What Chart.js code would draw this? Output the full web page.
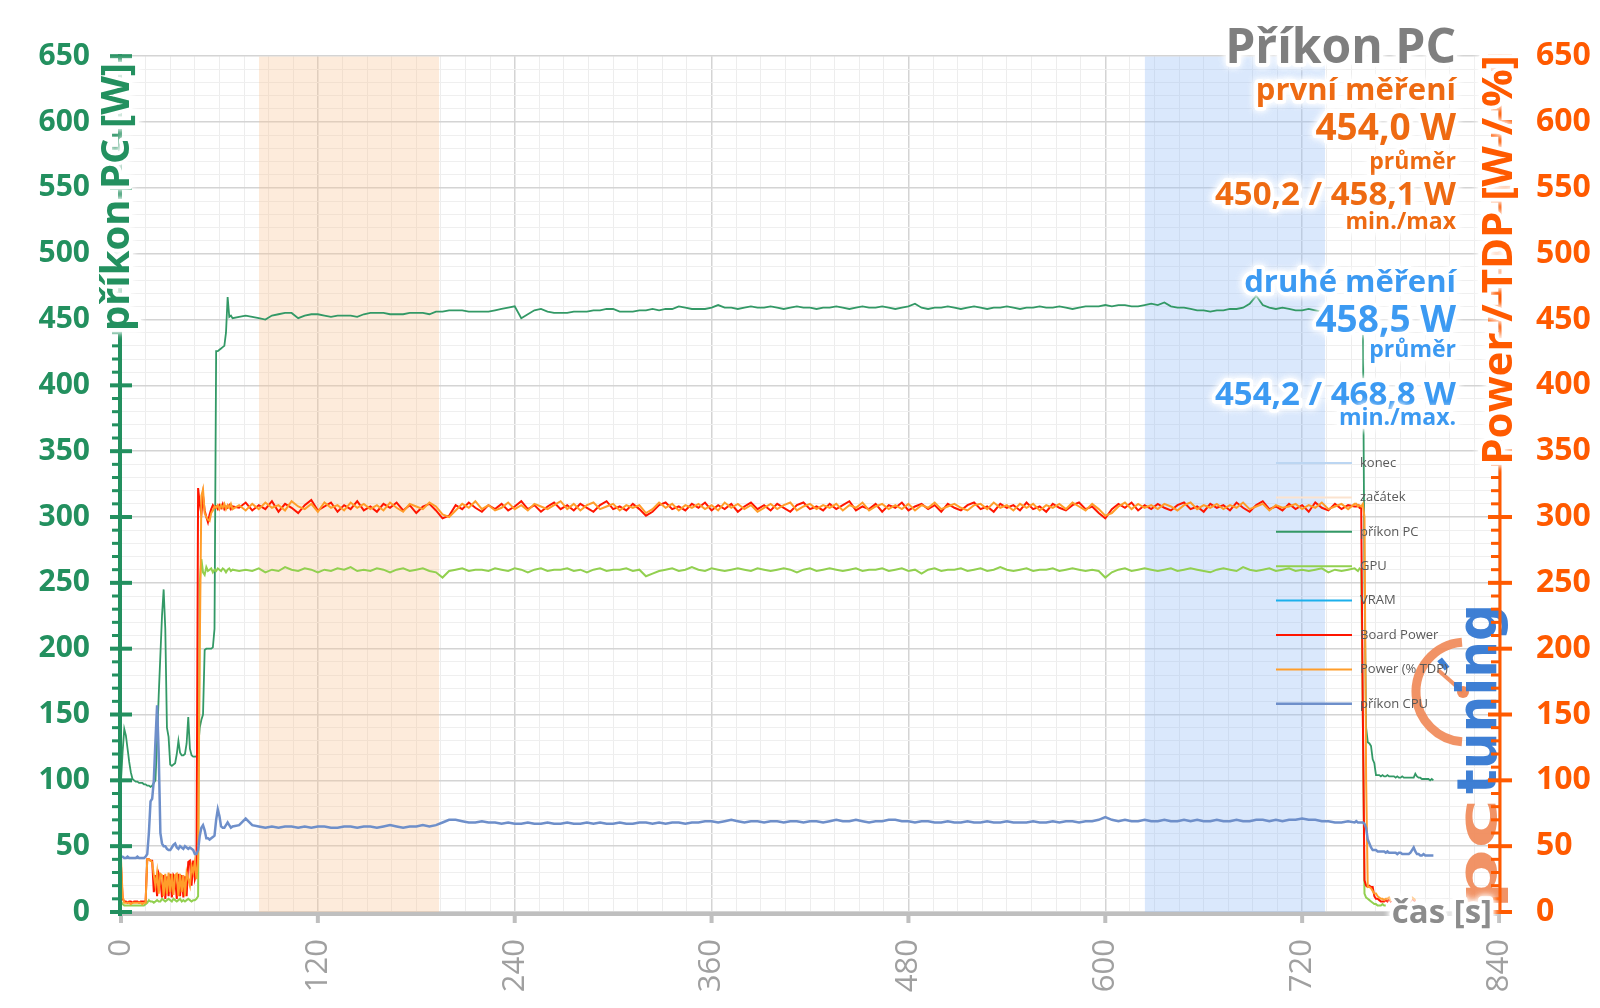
<!DOCTYPE html>
<html><head><meta charset="utf-8">
<script src="https://cdn.jsdelivr.net/npm/chart.js@4.4.1/dist/chart.umd.min.js"></script>
<style>html,body{margin:0;padding:0;background:#fff;}canvas{display:block;}</style>
</head><body>
<canvas id="c" width="1600" height="1008"></canvas>
<script>
// ---------- DATA ----------
const times = [
0,1,2,3,4,5,6,7,8,9,
10,11,12,13,14,15,16,17,18,19,
20,21,22,23,24,25,26,27,28,29,
30,31,32,33,34,35,36,37,38,39,
40,41,42,43,44,45,46,47,48,49,
50,51,52,53,54,55,56,57,58,59,
60,61,62,63,64,65,66,67,68,
72,76,80,84,88,92,96,100,104,108,
112,116,120,124,128,132,136,140,144,148,
152,156,160,164,168,172,176,180,184,188,
192,196,200,204,208,212,216,220,224,228,
232,236,240,244,248,252,256,260,264,268,
272,276,280,284,288,292,296,300,304,308,
312,316,320,324,328,332,336,340,344,348,
352,356,360,364,368,372,376,380,384,388,
392,396,400,404,408,412,416,420,424,428,
432,436,440,444,448,452,456,460,464,468,
472,476,480,484,488,492,496,500,504,508,
512,516,520,524,528,532,536,540,544,548,
552,556,560,564,568,572,576,580,584,588,
592,596,600,604,608,612,616,620,624,628,
632,636,640,644,648,652,656,660,664,668,
672,676,680,684,688,692,696,700,704,708,
712,716,720,724,728,732,736,740,744,748,
752,
753,754,755,756,757,758,759,760,761,762,
763,764,765,766,767,768,769,770,771,772,
773,774,775,776,777,778,779,780,781,782,
783,784,785,786,787,788,789,790,791,792,
793,794,795,796,797,798,799,800];

const prikonPC = [
100,122,139,134,124,114,106,101,100,99,
99,98,98,98,97,97,96,96,95,96,
98,100,130,165,195,225,245,215,140,133,
112,111,112,113,120,130,121,119,119,120,
128,148,124,119,118,118,118,124,140,146,
150,199,200,200,200,200,201,215,426,426,
427,428,429,430,440,467,452,453,451,
452,453,452,451,450,453,454,455,455,451,
453,454,454,453,452,453,453,453,452,454,
455,455,455,454,454,454,455,455,455,454,
456,456,457,457,457,456,456,456,456,457,
458,459,460,451,454,457,458,456,455,455,
455,456,456,456,457,457,458,458,456,456,
456,457,457,458,457,458,458,460,459,458,
458,458,459,461,459,459,458,459,460,459,
459,460,459,458,459,460,459,459,458,459,
459,460,459,458,459,460,459,459,460,459,
458,459,460,462,459,458,459,459,460,459,
458,459,460,459,458,459,459,460,459,458,
459,459,460,459,459,460,459,458,459,460,
460,460,461,460,461,461,460,460,461,462,
461,463,460,459,459,458,457,457,456,457,
457,458,458,459,462,468,461,459,458,459,
458,457,457,458,457,456,457,457,458,457,
458,
458,457,458,457,456,250,140,129,128,126,
116,113,104,104,104,103,104,103,103,104,
103,103,103,103,102,103,102,102,103,102,
102,102,102,102,102,102,105,103,102,102,
101,101,101,101,101,100,101,100];

const gpu = [
8,6,5,5,5,5,5,5,5,5,
5,5,5,5,5,6,7,9,8,8,
7,8,9,8,8,10,9,8,9,10,
9,8,10,9,8,9,10,8,9,8,
9,10,9,8,9,9,10,12,250,268,
258,256,262,259,260,261,258,260,259,261,
260,259,261,260,258,260,261,259,260,
259,260,259,261,258,260,259,262,260,259,
261,260,258,260,259,261,260,262,259,260,
259,261,260,258,260,261,259,260,261,259,
258,254,259,260,261,259,260,260,259,261,
260,259,261,260,258,260,261,259,260,260,
261,259,260,258,260,261,259,260,260,261,
259,260,255,257,259,260,261,259,260,262,
260,259,261,260,259,260,261,260,259,261,
260,259,260,261,260,258,260,261,259,260,
261,260,259,260,261,259,260,260,261,259,
260,261,259,260,257,260,261,259,260,260,
261,259,260,261,259,260,262,260,259,260,
261,259,260,260,261,259,260,261,260,259,
260,259,254,258,260,261,259,260,261,260,
259,260,261,259,260,261,260,259,258,260,
261,260,259,262,260,259,260,261,259,260,
261,259,260,259,260,261,258,260,259,260,
261,
260,259,261,260,150,14,11,10,9,8,
7,6,6,5,5,5,6,5,5,null,
null,null,null,null,null,null,null,null,null,null,
null,null,null,null,null,null,null,null,null,null,
null,null,null,null,null,null,null,null];

const vram = [];

const boardPower = [
35,10,8,8,7,8,8,7,8,8,
8,7,8,8,8,8,40,40,39,39,
15,28,12,29,25,11,28,10,27,12,
29,11,28,26,10,29,12,28,11,27,
12,38,39,20,39,25,30,322,310,302,
316,305,300,296,302,306,309,307,308,306,
309,307,310,306,308,307,309,306,308,
307,311,305,309,306,312,304,310,307,303,
309,313,305,308,311,304,309,306,312,305,
308,304,310,307,311,305,309,303,308,310,
305,299,301,309,306,311,307,304,309,306,
310,305,308,312,306,309,304,308,311,306,
309,305,310,307,304,309,312,306,308,305,
310,306,301,304,309,311,306,308,305,310,
307,311,305,309,306,310,304,308,311,306,
309,305,310,307,304,309,311,306,308,305,
310,306,309,312,305,308,306,310,304,309,
307,311,305,308,310,306,309,304,310,307,
305,309,311,306,308,304,310,307,309,305,
311,306,308,304,310,307,305,309,311,306,
308,303,299,306,310,307,311,305,309,306,
310,307,305,309,311,306,308,304,310,307,
309,305,311,307,304,309,312,306,308,305,
310,306,309,304,311,307,305,310,306,309,
308,
308,309,307,308,150,24,20,19,20,19,
19,12,10,10,9,8,8,8,9,8,
10,8,9,11,8,10,9,8,10,9,
8,10,9,8,10,9,8,null,null,null,
null,null,null,null,null,null,null,null];

const powerTDP = [
40,12,7,7,7,7,6,7,7,7,
7,7,7,6,7,7,40,40,39,38,
28,20,30,14,29,28,12,29,14,30,
15,29,13,28,29,12,29,15,28,12,
30,25,20,35,30,38,25,40,200,316,
321,303,300,298,297,303,305,308,307,309,
306,309,307,310,306,309,307,310,306,
309,305,310,306,311,307,309,305,312,308,
306,310,304,311,307,309,305,311,307,310,
306,309,305,311,307,304,310,308,306,311,
308,302,300,305,310,307,312,306,309,305,
307,311,306,309,305,310,308,306,309,312,
306,310,305,309,311,306,308,310,305,309,
307,309,303,306,311,307,310,305,309,307,
310,306,309,305,311,307,310,306,309,304,
307,310,306,309,311,305,308,310,306,309,
307,310,305,309,307,311,305,308,310,306,
309,306,310,305,309,307,311,306,308,310,
307,305,309,310,306,311,307,309,305,310,
307,310,305,309,307,310,306,311,308,305,
310,306,301,303,308,311,306,310,307,309,
306,310,308,305,309,311,306,309,307,310,
306,309,307,311,306,308,310,305,309,307,
308,310,306,309,307,311,306,308,310,306,
310,
310,308,309,308,310,300,100,19,19,18,
16,14,14,12,11,10,10,9,10,10,
11,9,10,12,9,11,10,9,11,10,
9,11,10,9,11,10,9,null,null,null,
null,null,null,null,null,null,null,null];

const prikonCPU = [
42,42,41,41,42,41,41,41,41,41,
42,41,41,41,41,42,44,60,84,86,
100,130,157,120,60,52,50,50,48,47,
47,49,51,52,49,48,50,49,48,50,
49,48,49,48,47,44,44,47,58,64,
66,62,56,56,55,56,57,58,70,78,
73,65,64,64,66,68,66,64,65,
66,71,66,65,64,65,64,65,65,64,
65,64,65,65,64,64,65,65,64,65,
65,64,65,66,65,64,65,65,66,65,
66,68,70,70,69,68,68,69,68,68,
67,68,67,67,68,67,67,68,67,67,
68,67,67,68,67,68,67,67,68,67,
67,68,68,67,68,67,68,68,67,68,
68,69,69,68,69,70,69,68,69,69,
68,69,69,68,69,69,68,69,69,68,
69,70,69,69,70,69,68,69,69,70,
70,69,69,68,69,69,68,68,69,68,
68,69,68,68,69,68,68,69,68,68,
68,69,68,68,69,68,69,69,68,69,
69,70,72,70,69,70,69,69,70,69,
69,70,69,69,70,69,70,69,69,70,
69,69,70,69,69,70,70,69,70,69,
70,70,71,70,70,69,69,68,68,69,
68,
69,68,68,68,68,67,64,55,52,49,
47,47,47,46,46,46,46,46,45,46,
45,45,45,45,45,44,45,45,44,44,
44,44,44,45,47,49,46,44,44,43,
43,44,43,43,43,43,43,43];

const bandZacatek = [84, 194];   // seconds
const bandKonec = [624, 734];    // seconds
const axisMax = 650;
const timeMax = 840;

const legendOrder = ['konec','začátek','příkon PC','GPU','VRAM','Board Power','Power (% TDP)','příkon CPU'];
const titleText = 'Příkon PC';
const firstBlock = ['první měření','454,0 W','průměr','450,2 / 458,1 W','min./max'];
const secondBlock = ['druhé měření','458,5 W','průměr','454,2 / 468,8 W','min./max.'];
const yTitleLeft = 'příkon PC [W]';
const yTitleRight = 'Power / TDP [W / %]';
const xTitle = 'čas [s]';

[prikonPC,gpu,boardPower,powerTDP,prikonCPU].forEach((a,i)=>{
  if (a.length !== times.length) throw new Error('length mismatch series '+i+': '+a.length+' vs '+times.length);
});

// ---------- STYLE ----------
const FONT = "'Open Sans', 'DejaVu Sans', sans-serif";
const C_GREEN_AX = '#23905f';
const C_ORANGE_AX = '#ff5a00';
const C_PC = '#339966', C_GPU = '#92d050', C_VRAM = '#1cb0ec', C_BOARD = '#ff1500', C_TDP = '#ff9d2a', C_CPU = '#6e8fca';
const C_TXT_OR = '#ee6a12', C_TXT_BL = '#3c9af2', C_TITLE = '#7f7f7f';

const pts = arr => times.map((t,i)=>({x:t, y:arr[i]})).filter(p => p.y !== null && p.y !== undefined);
const band = b => [{x:b[0], y:axisMax},{x:b[1], y:axisMax}];

function halo(ctx, text, x, y, color, font, align, glow){
  ctx.save();
  ctx.font = font; ctx.textAlign = align || 'right'; ctx.textBaseline = 'alphabetic';
  ctx.lineJoin = 'round';
  const g = glow || 7;
  ctx.shadowColor = 'rgba(255,255,255,1)'; ctx.shadowBlur = g;
  ctx.strokeStyle = '#ffffff'; ctx.lineWidth = g;
  ctx.strokeText(text, x, y); ctx.strokeText(text, x, y);
  ctx.shadowBlur = 0; ctx.shadowColor = 'rgba(0,0,0,0)';
  ctx.fillStyle = color; ctx.fillText(text, x, y);
  ctx.restore();
}

function drawLogo(ctx){
  ctx.save();
  const cx = 1466, cy = 692, r = 50;
  ctx.strokeStyle = 'rgba(240,135,85,0.9)'; ctx.lineWidth = 9;
  ctx.beginPath(); ctx.arc(cx, cy, r, -Math.PI/2 - 0.08, Math.PI/2 + 0.08, true); ctx.stroke();
  ctx.strokeStyle = '#3c7fd6'; ctx.lineWidth = 6;
  ctx.beginPath();
  ctx.moveTo(cx + Math.cos(-2.25)*30, cy + Math.sin(-2.25)*30);
  ctx.lineTo(cx + Math.cos(-2.25)*42, cy + Math.sin(-2.25)*42); ctx.stroke();
  ctx.strokeStyle = 'rgba(240,135,85,0.9)'; ctx.lineWidth = 4;
  ctx.beginPath(); ctx.moveTo(cx - 3, cy); ctx.lineTo(cx - 28, cy - 22); ctx.stroke();
  ctx.fillStyle = 'rgba(240,135,85,0.95)';
  ctx.beginPath(); ctx.arc(cx - 3, cy, 6, 0, Math.PI*2); ctx.fill();
  ctx.translate(1496, 910); ctx.rotate(-Math.PI/2);
  ctx.font = "bold 56px 'DejaVu Sans'"; ctx.textBaseline = 'alphabetic'; ctx.textAlign = 'left';
  const w1 = ctx.measureText('pc').width, w2 = ctx.measureText('tuning').width;
  ctx.save(); ctx.scale(112/w1, 1); ctx.fillStyle = 'rgba(240,135,85,0.9)'; ctx.fillText('pc', 0, 0); ctx.restore();
  ctx.save(); ctx.translate(116, 0); ctx.scale(190/w2, 1); ctx.fillStyle = 'rgba(52,120,210,0.95)'; ctx.fillText('tuning', 0, 0); ctx.restore();
  ctx.restore();
}

const overlay = {
  id: 'overlay',
  beforeDatasetsDraw(chart){ drawLogo(chart.ctx); },
  afterDatasetsDraw(chart){
    const ctx = chart.ctx, ca = chart.chartArea;
    const ys = chart.scales.y, ys2 = chart.scales.y2, xs = chart.scales.x;
    ctx.save();
    // bottom axis
    ctx.fillStyle = '#bfbfbf';
    ctx.fillRect(ca.left - 2, ca.bottom, ca.right - ca.left + 3, 4);
    for (let v = 0; v <= timeMax; v += 120) {
      const px = xs.getPixelForValue(v);
      ctx.fillRect(px - 2, ca.bottom, 4, 11);
    }
    // left axis
    ctx.fillStyle = C_GREEN_AX;
    ctx.fillRect(ca.left - 3, ca.top - 2, 4, ca.bottom - ca.top + 6);
    for (let v = 0; v <= axisMax; v += 10) {
      const py = ys.getPixelForValue(v);
      if (v % 50 === 0) ctx.fillRect(ca.left - 11, py - 2, 22, 4);
      else ctx.fillRect(ca.left - 9, py - 1.5, 7, 3);
    }
    // right axis
    ctx.fillStyle = C_ORANGE_AX;
    ctx.fillRect(ca.right - 0.5, ca.top - 2, 3, ca.bottom - ca.top + 4);
    for (let v = 0; v <= axisMax; v += 10) {
      const py = ys2.getPixelForValue(v);
      if (v % 50 === 0) ctx.fillRect(ca.right - 11, py - 2, 24, 4);
      else ctx.fillRect(ca.right - 8, py - 1.5, 9, 3);
    }
    ctx.restore();

    // legend
    ctx.save();
    const byLabel = {};
    chart.data.datasets.forEach(d => byLabel[d.label] = d);
    legendOrder.forEach((lab, i) => {
      const d = byLabel[lab];
      const yy = 463 + i * 34.4;
      ctx.strokeStyle = d.legendColor || d.borderColor;
      ctx.lineWidth = d.legendWidth || d.borderWidth || 2;
      ctx.beginPath(); ctx.moveTo(1276, yy); ctx.lineTo(1352, yy); ctx.stroke();
      ctx.font = '13px ' + FONT; ctx.fillStyle = '#595959';
      ctx.textAlign = 'left'; ctx.textBaseline = 'middle';
      ctx.fillText(lab, 1360, yy);
    });
    ctx.restore();

    // annotation texts
    const RX = 1456;
    halo(ctx, titleText, RX, 63, C_TITLE, 'bold 48px ' + FONT);
    const sizes = [31, 37, 23, 33, 23];
    const base1 = [100, 140, 169, 205, 229];
    const base2 = [292, 332, 357, 405, 425];
    firstBlock.forEach((t, i) => halo(ctx, t, RX, base1[i], C_TXT_OR, 'bold ' + sizes[i] + 'px ' + FONT));
    secondBlock.forEach((t, i) => halo(ctx, t, RX, base2[i], C_TXT_BL, 'bold ' + sizes[i] + 'px ' + FONT));

    // axis titles
    ctx.save(); ctx.translate(129, 197); ctx.rotate(-Math.PI/2);
    halo(ctx, yTitleLeft, 0, 0, C_GREEN_AX, 'bold 40px ' + FONT, 'center');
    ctx.restore();
    ctx.save(); ctx.translate(1512, 260); ctx.rotate(-Math.PI/2);
    halo(ctx, yTitleRight, 0, 0, C_ORANGE_AX, 'bold 42px ' + FONT, 'center');
    ctx.restore();
    halo(ctx, xTitle, 1492, 923, '#8c8c8c', 'bold 33px ' + FONT, 'right');
  }
};

const gridX = c => (c.tick && c.tick.value % 120 === 0) ? '#d4d4d4' : '#ededed';
const gridY = c => (c.tick && c.tick.value % 50 === 0) ? '#d4d4d4' : '#efefef';

new Chart(document.getElementById('c').getContext('2d'), {
  type: 'line',
  data: { datasets: [
    { label: 'příkon CPU', data: pts(prikonCPU), borderColor: C_CPU, borderWidth: 2.5 },
    { label: 'Power (% TDP)', data: pts(powerTDP), borderColor: C_TDP, borderWidth: 2, legendWidth: 2 },
    { label: 'Board Power', data: pts(boardPower), borderColor: C_BOARD, borderWidth: 2, legendWidth: 2 },
    { label: 'VRAM', data: vram, borderColor: C_VRAM, borderWidth: 2 },
    { label: 'GPU', data: pts(gpu), borderColor: C_GPU, borderWidth: 2 },
    { label: 'příkon PC', data: pts(prikonPC), borderColor: C_PC, borderWidth: 1.8, legendWidth: 2 },
    { label: 'začátek', data: band(bandZacatek), fill: 'origin', backgroundColor: 'rgba(250,195,145,0.33)', borderWidth: 0, borderColor: 'rgba(0,0,0,0)', legendColor: '#fbe3cf', legendWidth: 2 },
    { label: 'konec', data: band(bandKonec), fill: 'origin', backgroundColor: 'rgba(150,190,245,0.35)', borderWidth: 0, borderColor: 'rgba(0,0,0,0)', legendColor: '#bcd6f2', legendWidth: 2 }
  ]},
  options: {
    responsive: false, animation: false, devicePixelRatio: 1,
    layout: { padding: { top: 54, left: 0, right: 0, bottom: 0 } },
    elements: { point: { radius: 0 }, line: { tension: 0 } },
    plugins: { legend: { display: false }, tooltip: { enabled: false } },
    scales: {
      x: {
        type: 'linear', min: 0, max: timeMax, position: 'bottom',
        afterFit(s){ s.height = 96; },
        border: { display: false },
        grid: { drawTicks: false, color: gridX, lineWidth: c => (c.tick && c.tick.value % 120 === 0) ? 1.5 : 1 },
        ticks: { stepSize: 15, autoSkip: false, minRotation: 90, maxRotation: 90, padding: 27,
          color: '#a0a0a0', font: { family: FONT, size: 31 },
          callback: v => v % 120 === 0 ? String(v) : '' }
      },
      y: {
        position: 'left', min: 0, max: axisMax,
        afterFit(s){ s.width = 121; },
        border: { display: false },
        grid: { drawTicks: false, color: gridY, lineWidth: c => (c.tick && c.tick.value % 50 === 0) ? 1.5 : 1 },
        ticks: { stepSize: 10, autoSkip: false, padding: 31, color: C_GREEN_AX,
          font: { family: FONT, size: 30, weight: 'bold' },
          callback: v => v % 50 === 0 ? String(v) : '' }
      },
      y2: {
        position: 'right', min: 0, max: axisMax,
        afterFit(s){ s.width = 101; },
        border: { display: false },
        grid: { display: false, drawTicks: false },
        ticks: { stepSize: 10, autoSkip: false, padding: 37, color: C_ORANGE_AX,
          font: { family: FONT, size: 32, weight: 'bold' },
          callback: v => v % 50 === 0 ? String(v) : '' }
      }
    }
  },
  plugins: [overlay]
});
</script>
</body></html>
